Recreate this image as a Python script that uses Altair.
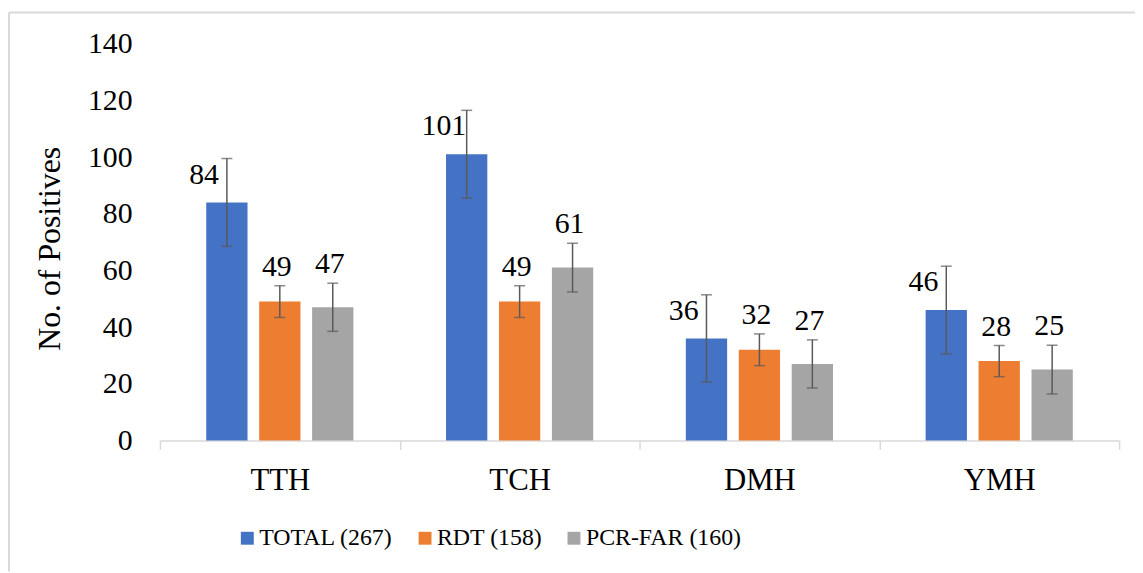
import altair as alt
import pandas as pd

groups = ["TTH", "TCH", "DMH", "YMH"]
series = ["TOTAL (267)", "RDT (158)", "PCR-FAR (160)"]
colors = ["#4472C4", "#ED7D31", "#A5A5A5"]

total = [84, 101, 36, 46]
rdt = [49, 49, 32, 28]
pcr = [47, 61, 27, 25]

total_err = [15.5, 15.5, 15.4, 15.5]
rdt_err = [5.6, 5.6, 5.6, 5.5]
pcr_err = [8.5, 8.6, 8.5, 8.6]

y_ticks = [0, 20, 40, 60, 80, 100, 120, 140]

rows = []
for s, vals, errs in zip(series, [total, rdt, pcr], [total_err, rdt_err, pcr_err]):
    for g, v, e in zip(groups, vals, errs):
        rows.append({"group": g, "series": s, "value": v, "err": e})
df = pd.DataFrame(rows)

FONT = "Liberation Serif"
TITLE = "No. of Positives"

y_scale = alt.Scale(domain=[0, 140], nice=False)
y_axis = alt.Axis(
    values=y_ticks, grid=False, domain=False, ticks=False,
    labelPadding=28, labelFontSize=30, labelFont=FONT, labelColor="#000000",
    title=TITLE, titleFontSize=32, titleFont=FONT, titleFontWeight="normal",
    titleColor="#000000", titleAngle=270, titleX=-111, titleY=206,
    titleAlign="center", titleBaseline="middle",
)

base = alt.Chart(df).encode(
    x=alt.X(
        "group:N", sort=groups,
        scale=alt.Scale(paddingInner=0, paddingOuter=0),
        axis=alt.Axis(
            title=None, labelAngle=0, labelFontSize=31, labelFont=FONT,
            labelColor="#000000", labelPadding=16,
            domainColor="#D9D9D9", domainWidth=1.5,
            tickColor="#D9D9D9", tickWidth=1.5, tickSize=9, tickBand="extent",
        ),
    ),
    xOffset=alt.XOffset(
        "series:N", sort=series,
        scale=alt.Scale(paddingInner=0.22, paddingOuter=0.875),
    ),
)

bars = base.mark_bar().encode(
    y=alt.Y("value:Q", scale=y_scale, axis=y_axis, title=TITLE),
    color=alt.Color(
        "series:N", sort=series,
        scale=alt.Scale(domain=series, range=colors),
        legend=alt.Legend(
            title=None, orient="none", direction="horizontal",
            legendX=76, legendY=486, padding=0,
            symbolType="square", symbolSize=169, symbolStrokeWidth=0,
            labelFontSize=24, labelFont=FONT, labelColor="#000000",
            labelOffset=0, columnPadding=20,
        ),
    ),
)

err = base.transform_calculate(
    lo="datum.value - datum.err", hi="datum.value + datum.err"
)
rule = err.mark_rule(color="#595959", strokeWidth=1.5).encode(
    y=alt.Y("lo:Q", scale=y_scale, axis=y_axis, title=TITLE), y2="hi:Q"
)
cap_lo = err.mark_tick(color="#595959", thickness=1.5, size=11).encode(
    y=alt.Y("lo:Q", scale=y_scale, axis=y_axis, title=TITLE)
)
cap_hi = err.mark_tick(color="#595959", thickness=1.5, size=11).encode(
    y=alt.Y("hi:Q", scale=y_scale, axis=y_axis, title=TITLE)
)

lab_total = base.transform_filter(alt.datum.series == series[0]).mark_text(
    dx=-23, dy=-19, baseline="alphabetic", fontSize=30, font=FONT, color="#000000"
).encode(
    y=alt.Y("value:Q", scale=y_scale, axis=y_axis, title=TITLE),
    text="value:Q",
)
lab_other = base.transform_filter(alt.datum.series != series[0]).transform_calculate(
    top="datum.value + datum.err"
).mark_text(
    dx=-3, dy=-10, baseline="alphabetic", fontSize=30, font=FONT, color="#000000"
).encode(
    y=alt.Y("top:Q", scale=y_scale, axis=y_axis, title=TITLE),
    text="value:Q",
)

frame_df = pd.DataFrame({"k": [0]})
frame_left = alt.Chart(frame_df).mark_rule(color="#D9D9D9", strokeWidth=2).encode(
    x=alt.value(-152), y=alt.value(-31.5), y2=alt.value(531.5)
)
frame_top = alt.Chart(frame_df).mark_rule(color="#D9D9D9", strokeWidth=2).encode(
    x=alt.value(-152), x2=alt.value(990), y=alt.value(-31.5)
)

chart = alt.layer(
    frame_left, frame_top, bars, rule, cap_lo, cap_hi, lab_total, lab_other
).properties(
    width=966, height=399.5,
    autosize=alt.AutoSizeParams(type="none"),
    padding={"left": 153, "top": 34, "right": 16, "bottom": 131.5},
    background="white",
).configure(
    font=FONT,
).configure_view(
    stroke="#ffffff", strokeOpacity=0, strokeWidth=0,
).configure_text(
    font=FONT,
).configure_legend(
    labelFont=FONT,
)

chart.save("out.html", embed_options={"renderer": "svg", "actions": False})
